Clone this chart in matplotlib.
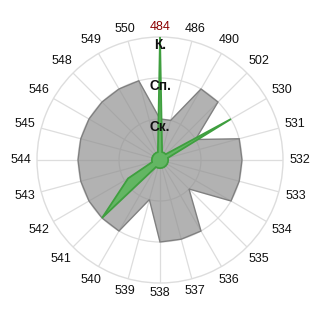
import numpy as np
import matplotlib
matplotlib.use("Agg")
import matplotlib.pyplot as plt

categories = ["484", "486", "490", "502", "530", "531", "532", "533", "534", "535",
              "536", "537", "538", "539", "540", "541", "542", "543", "544", "545",
              "546", "548", "549", "550"]
gray_values = [1, 1, 2, 2, 1, 2, 2, 2, 2, 1,
               2, 2, 2, 1, 2, 2, 2, 2, 2, 2,
               2, 2, 2, 2]
green_values = [3, 0.2, 0.2, 0.2, 2, 0.2, 0.2, 0.2, 0.2, 0.2,
                0.2, 0.2, 0.2, 0.2, 0.2, 2, 0.9, 0.2, 0.2, 0.2,
                0.2, 0.2, 0.2, 0.2]
level_labels = ["Ск.", "Сп.", "К."]
level_values = [1, 2, 3]
highlight = "484"

plt.rcParams['font.family'] = ['Liberation Sans', 'DejaVu Sans']

fig = plt.figure(figsize=(3.2, 3.2), dpi=100)
ax = fig.add_axes([37/320, 37/320, 246/320, 246/320], projection='polar')
ax.set_theta_zero_location('N')
ax.set_theta_direction(-1)

n = len(categories)
theta = np.arange(n) * 2 * np.pi / n
tc = np.append(theta, theta[0])

ax.set_ylim(0, 3)
ax.set_xticks(theta)
ax.set_xticklabels([])
ax.set_yticks(level_values[:-1])
ax.set_yticklabels([])
ax.grid(True, color='#dddddd', lw=0.9)
ax.spines['polar'].set_color('#dddddd')
ax.spines['polar'].set_linewidth(1.0)
ax.tick_params(length=0)
ax.set_axisbelow(True)

gv = np.append(gray_values, gray_values[0])
ax.fill(tc, gv, facecolor='#8e8e8e', alpha=0.68, edgecolor='none', zorder=2)
ax.fill(tc, gv, facecolor='none', edgecolor='#808080', lw=1.0, zorder=3)

gr = np.append(green_values, green_values[0])
ax.fill(tc, gr, facecolor='#63b663', edgecolor='#3f9f3f', lw=1.3, zorder=4,
        joinstyle='miter')

# category labels
R0 = 3.15
hw, hh = 0.25, 0.105
for t, lab in zip(theta, categories):
    r = R0 + abs(np.sin(t)) * hw + abs(np.cos(t)) * hh
    ax.text(t, r, lab, ha='center', va='center', fontsize=9,
            color='#8b0000' if lab == highlight else '#111111', clip_on=False)

# level labels
for v, lab in zip(level_values, level_labels):
    ax.text(0, v - 0.2, lab, ha='center', va='center', fontsize=9.8,
            fontweight='bold', color='#111111', zorder=6)

fig.savefig('out.png', dpi=100)
